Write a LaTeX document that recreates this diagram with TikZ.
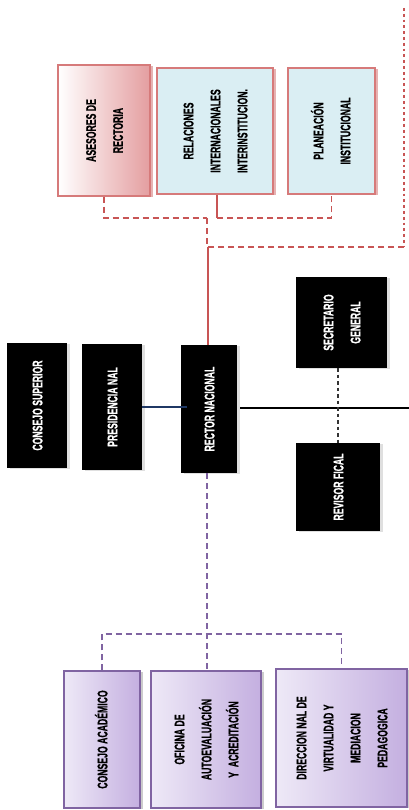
\documentclass[tikz,border=0pt]{standalone}
\usepackage{fontspec}
\newfontfamily\nfont[FakeStretch=0.62,FakeBold=0.6]{Liberation Sans Bold}
\usetikzlibrary{shadows}
\definecolor{redline}{RGB}{200,85,85}
\definecolor{redborder}{RGB}{214,122,122}
\definecolor{bluefill}{RGB}{218,238,243}
\definecolor{pinkfill}{RGB}{228,158,160}
\definecolor{purpleb}{RGB}{128,100,162}
\definecolor{purplel}{RGB}{238,233,247}
\definecolor{purpler}{RGB}{196,175,224}
\definecolor{navy}{RGB}{31,56,100}
\newcommand{\vtxt}[1]{\rotatebox{90}{\begin{tabular}{@{}c@{}}#1\end{tabular}}}
\tikzset{
  box/.style={rectangle, inner sep=0pt, align=center,
    font=\nfont\fontsize{14}{27}\selectfont},
  redbox/.style={box, draw=redborder, line width=1.3pt,
    drop shadow={shadow xshift=2.5pt, shadow yshift=-1pt, fill=redline, opacity=0.45}},
  pinkbox/.style={redbox, left color=white, right color=pinkfill},
  bluebox/.style={redbox, fill=bluefill},
  blackbox/.style={box, fill=black, text=white,
    drop shadow={shadow xshift=3pt, shadow yshift=-1pt, opacity=0.25}},
  purbox/.style={box, draw=purpleb, line width=1.3pt, left color=purplel, right color=purpler,
    drop shadow={shadow xshift=2.5pt, shadow yshift=-1pt, opacity=0.4}},
  reddash/.style={draw=redline, line width=1.8pt, dash pattern=on 6pt off 4pt},
  reddot/.style={draw=redline, line width=2.8pt, dash pattern=on 2.8pt off 3pt},
  redsolid/.style={draw=redline, line width=1.6pt},
  purdash/.style={draw=purpleb, line width=1.8pt, dash pattern=on 6pt off 4pt},
  navyline/.style={draw=navy, line width=2pt},
  blackline/.style={draw=black, line width=1.2pt},
  blackdash/.style={draw=black!80, line width=2pt, dash pattern=on 3.5pt off 3pt}
}
\begin{document}
\begin{tikzpicture}[x=1pt,y=-1pt]
\useasboundingbox (0,0) rectangle (409,810);
% top boxes
\node[pinkbox, minimum width=92pt, minimum height=131pt] (ases) at (104,130.5) {\vtxt{ASESORES DE\\RECTORIA}};
\node[bluebox, minimum width=116pt, minimum height=126pt] (rel) at (215,131) {\vtxt{RELACIONES\\INTERNACIONALES\\INTERINSTITUCION.}};
\node[bluebox, minimum width=87pt, minimum height=126pt] (plan) at (331.5,131) {\vtxt{PLANEACIÓN\\INSTITUCIONAL}};
% middle
\node[blackbox, minimum width=60pt, minimum height=125pt] (csup) at (37,405.5) {\vtxt{CONSEJO SUPERIOR}};
\node[blackbox, minimum width=60pt, minimum height=126pt] (pres) at (112,407) {\vtxt{PRESIDENCIA NAL}};
\node[blackbox, minimum width=56pt, minimum height=128pt] (rect) at (209,409) {\vtxt{RECTOR NACIONAL}};
\node[blackbox, minimum width=91pt, minimum height=91pt] (sec) at (341.5,322.5) {\vtxt{SECRETARIO\\GENERAL}};
\node[blackbox, minimum width=84pt, minimum height=88pt] (rev) at (338,487) {\vtxt{REVISOR FICAL}};
% bottom
\node[purbox, minimum width=76pt, minimum height=137pt] (cac) at (102,739.5) {\vtxt{CONSEJO ACADÉMICO}};
\node[purbox, minimum width=110pt, minimum height=137pt] (ofi) at (206,739.5) {\vtxt{OFICINA DE\\AUTOEVALUACIÓN\\Y\ \ ACREDITACIÓN}};
\node[purbox, minimum width=131pt, minimum height=138pt] (dir) at (341.5,738) {\vtxt{DIRECCION NAL DE\\VIRTUALIDAD Y\\MEDIACION\\PEDAGOGICA}};
% top connectors
\coordinate (r1) at (404,8);
\coordinate (r2) at (404,247);
\coordinate (r3) at (208,247);
\coordinate (j1) at (207,218);
\coordinate (j2) at (217,218);
\draw[reddot] (r1) -- (r2);
\draw[reddash] (r2) -- (r3);
\draw[redsolid] (r3) -- (r3 |- rect.north);
\draw[reddash] (ases.south) |- (j1);
\draw[reddash] (j1) -- (j1 |- r3);
\draw[redsolid] (j2 |- rel.south) -- (j2);
\draw[reddash] (j2) -| (plan.south);
% middle connectors
\coordinate (e) at (409,408);
\coordinate (b1) at (187,407);
\draw[navyline] (pres.east) -- (b1);
\draw[blackline] ([xshift=3pt]rect.east |- e) -- (e);
\draw[blackdash] (rev.north |- sec.south) -- (rev.north);
% bottom connectors
\coordinate (p1) at (207,634);
\draw[purdash] (p1 |- rect.south) -- (p1 |- ofi.north);
\draw[purdash] (cac.north) |- (p1) -| (dir.north);
\end{tikzpicture}
\end{document}
